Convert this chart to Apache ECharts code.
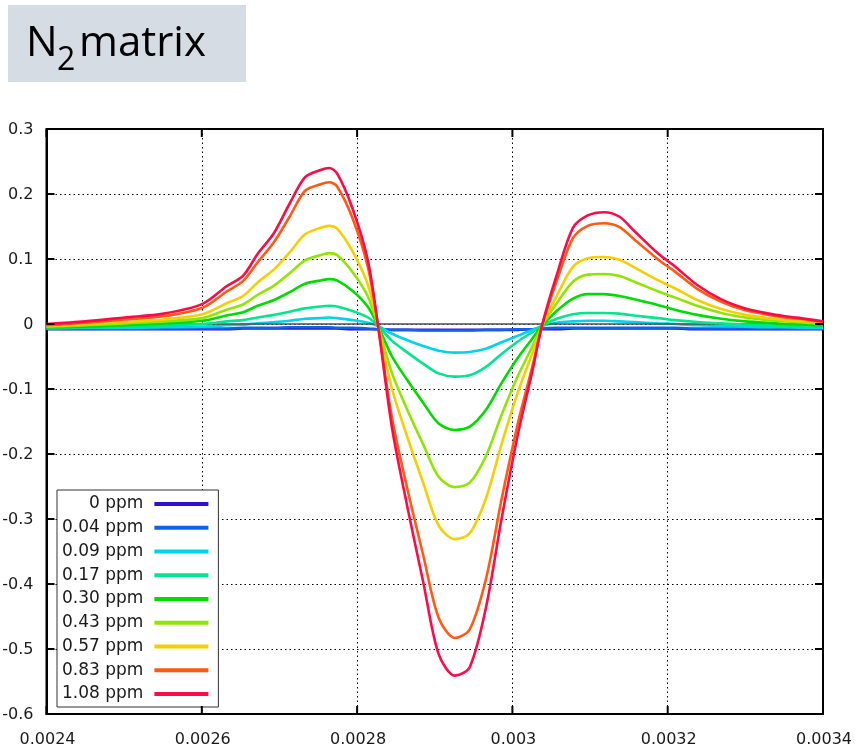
<!DOCTYPE html>
<html>
<head>
<meta charset="utf-8">
<script src="https://cdn.jsdelivr.net/npm/echarts@6.0.0/dist/echarts.min.js"></script>
<style>
html,body{margin:0;padding:0;background:#fff;}
#chart{width:858px;height:751px;}
</style>
</head>
<body>
<div id="chart"></div>
<script>
// ---- data ----
const xValues = [0.002400,0.002450,0.002501,0.002551,0.002601,0.002632,0.002653,0.002672,0.002693,0.002713,0.002733,0.002753,0.002764,0.002774,0.002794,0.002814,0.002827,0.002845,0.002865,0.002885,0.002905,0.002926,0.002945,0.002966,0.002986,0.003007,0.003026,0.003038,0.003057,0.003078,0.003097,0.003118,0.003138,0.003157,0.003188,0.003209,0.003238,0.003269,0.003300,0.003330,0.003351,0.003377,0.003400];

const seriesNames = ['0 ppm','0.04 ppm','0.09 ppm','0.17 ppm','0.30 ppm','0.43 ppm','0.57 ppm','0.83 ppm','1.08 ppm'];

const ppm0 = [-0.008,-0.008,-0.008,-0.008,-0.008,-0.008,-0.007,-0.007,-0.007,-0.007,-0.007,-0.007,-0.007,-0.007,-0.008,-0.008,-0.008,-0.009,-0.009,-0.009,-0.009,-0.009,-0.009,-0.009,-0.009,-0.009,-0.008,-0.008,-0.008,-0.007,-0.007,-0.007,-0.007,-0.007,-0.007,-0.007,-0.008,-0.008,-0.008,-0.008,-0.008,-0.008,-0.008];
const ppm004 = [-0.007,-0.007,-0.007,-0.007,-0.007,-0.007,-0.006,-0.006,-0.006,-0.005,-0.005,-0.005,-0.005,-0.006,-0.006,-0.007,-0.008,-0.009,-0.009,-0.010,-0.010,-0.010,-0.010,-0.009,-0.009,-0.008,-0.008,-0.007,-0.006,-0.006,-0.006,-0.006,-0.006,-0.006,-0.006,-0.006,-0.007,-0.007,-0.007,-0.007,-0.007,-0.007,-0.007];
const ppm009 = [-0.007,-0.006,-0.006,-0.005,-0.004,-0.002,-0.001,0.001,0.003,0.005,0.008,0.009,0.010,0.009,0.006,0.002,-0.003,-0.015,-0.025,-0.034,-0.041,-0.044,-0.043,-0.038,-0.028,-0.018,-0.009,-0.003,0.002,0.004,0.005,0.005,0.004,0.003,0.001,0.000,-0.002,-0.003,-0.004,-0.005,-0.005,-0.006,-0.006];
const ppm017 = [-0.006,-0.005,-0.004,-0.002,0.000,0.004,0.006,0.010,0.014,0.019,0.024,0.027,0.028,0.027,0.020,0.010,-0.003,-0.026,-0.044,-0.061,-0.076,-0.081,-0.079,-0.066,-0.046,-0.027,-0.012,-0.003,0.008,0.015,0.017,0.017,0.016,0.013,0.009,0.006,0.003,0.001,-0.001,-0.002,-0.003,-0.003,-0.004];
const ppm030 = [-0.005,-0.004,-0.002,0.001,0.005,0.013,0.018,0.028,0.037,0.049,0.062,0.067,0.069,0.067,0.051,0.026,-0.003,-0.050,-0.087,-0.121,-0.153,-0.163,-0.158,-0.132,-0.091,-0.052,-0.022,-0.003,0.020,0.039,0.046,0.046,0.043,0.038,0.029,0.022,0.014,0.008,0.004,0.002,0.000,-0.001,-0.002];
const ppm043 = [-0.004,-0.002,0.001,0.004,0.009,0.022,0.030,0.045,0.059,0.078,0.098,0.106,0.109,0.106,0.080,0.042,-0.003,-0.076,-0.133,-0.185,-0.235,-0.251,-0.244,-0.203,-0.140,-0.080,-0.034,-0.003,0.032,0.065,0.076,0.077,0.074,0.065,0.050,0.041,0.028,0.017,0.010,0.006,0.004,0.002,0.000];
const ppm057 = [-0.003,0.000,0.003,0.007,0.015,0.032,0.043,0.064,0.084,0.110,0.138,0.148,0.151,0.147,0.112,0.060,-0.003,-0.100,-0.175,-0.244,-0.310,-0.331,-0.322,-0.268,-0.185,-0.105,-0.044,-0.003,0.043,0.088,0.101,0.103,0.099,0.087,0.067,0.055,0.037,0.023,0.014,0.009,0.006,0.004,0.002];
const ppm083 = [-0.002,0.002,0.007,0.012,0.025,0.050,0.066,0.095,0.126,0.165,0.205,0.215,0.218,0.212,0.163,0.087,-0.003,-0.145,-0.255,-0.355,-0.452,-0.483,-0.470,-0.392,-0.270,-0.153,-0.064,-0.003,0.066,0.132,0.151,0.155,0.149,0.130,0.099,0.081,0.054,0.034,0.021,0.014,0.010,0.007,0.003];
const ppm108 = [0.000,0.004,0.010,0.016,0.031,0.058,0.074,0.108,0.140,0.185,0.226,0.237,0.240,0.232,0.178,0.097,-0.003,-0.160,-0.283,-0.396,-0.508,-0.541,-0.528,-0.436,-0.300,-0.170,-0.071,-0.003,0.075,0.148,0.167,0.172,0.165,0.143,0.108,0.089,0.060,0.038,0.024,0.016,0.012,0.008,0.004];

// tick labels
const xTickLabels = ['0.0024','0.0026','0.0028','0.003','0.0032','0.0034'];
const yTickLabels = ['-0.6','-0.5','-0.4','-0.3','-0.2','-0.1','0','0.1','0.2','0.3'];

// ---- styles ----
const allValues = [ppm0, ppm004, ppm009, ppm017, ppm030, ppm043, ppm057, ppm083, ppm108];
const colors = ['#3010d0','#1062e6','#00d4ea','#00e68e','#00dc00','#90e600','#f4d000','#ff5a12','#ff0a48'];

const X_MIN = parseFloat(xTickLabels[0]);
const X_MAX = parseFloat(xTickLabels[xTickLabels.length - 1]);
const X_INT = Number((parseFloat(xTickLabels[1]) - X_MIN).toFixed(6));
const Y_MIN = parseFloat(yTickLabels[0]);
const Y_MAX = parseFloat(yTickLabels[yTickLabels.length - 1]);
const Y_INT = Number((parseFloat(yTickLabels[1]) - Y_MIN).toFixed(6));

const LABEL_FONT = "16px 'DejaVu Sans', sans-serif";

const series = allValues.map((vals, i) => {
  const s = {
    name: seriesNames[i],
    type: 'line',
    data: xValues.map((x, j) => [x, vals[j]]),
    showSymbol: false,
    smooth: 0.3,
    color: colors[i],
    lineStyle: { width: 2.6, color: colors[i] },
    z: 2 + i
  };
  if (i === 0) {
    s.markLine = {
      silent: true,
      symbol: 'none',
      label: { show: false },
      lineStyle: { color: '#505050', width: 1.5, type: 'solid' },
      data: [{ yAxis: 0 }]
    };
  }
  return s;
});

const titleGraphics = [
  { type: 'rect', left: 8, top: 5, shape: { width: 238, height: 77 }, style: { fill: '#D6DCE4' }, z: 0 },
  { type: 'text', x: 26, y: 44, style: { text: 'N', font: "42px 'Open Sans', sans-serif", fill: '#000', verticalAlign: 'middle', textVerticalAlign: 'middle' }, z: 1 },
  { type: 'text', x: 57, y: 61, style: { text: '2', font: "32px 'Open Sans', sans-serif", fill: '#000', verticalAlign: 'middle', textVerticalAlign: 'middle' }, z: 1 },
  { type: 'text', x: 79, y: 44, style: { text: 'matrix', font: "42px 'Open Sans', sans-serif", fill: '#000', verticalAlign: 'middle', textVerticalAlign: 'middle' }, z: 1 }
];

const chart = echarts.init(document.getElementById('chart'));
try {
  chart.setOption({
    animation: false,
    backgroundColor: '#fff',
    grid: {
      left: 46.5, right: 35, top: 129, bottom: 37,
      show: true, borderColor: '#000', borderWidth: 2
    },
    xAxis: {
      type: 'value', min: X_MIN, max: X_MAX, interval: X_INT,
      axisLine: { show: true, onZero: false, lineStyle: { color: '#000', width: 2 } },
      axisTick: { show: false },
      axisLabel: { show: false },
      splitLine: { show: true, lineStyle: { color: '#000', width: 1, type: [1.5, 3] } }
    },
    yAxis: {
      type: 'value', min: Y_MIN, max: Y_MAX, interval: Y_INT,
      axisLine: { show: true, onZero: false, lineStyle: { color: '#000', width: 2 } },
      axisTick: { show: false },
      axisLabel: { show: false },
      splitLine: { show: true, lineStyle: { color: '#000', width: 1, type: [1.5, 3] } }
    },
    legend: {
      orient: 'vertical',
      left: 57, top: 490,
      align: 'right',
      icon: 'rect',
      itemWidth: 54, itemHeight: 4,
      itemGap: 5.75,
      padding: [5, 10, 4, 5],
      backgroundColor: '#fff',
      borderColor: '#333', borderWidth: 1,
      data: seriesNames,
      textStyle: { fontFamily: 'DejaVu Sans', fontSize: 17, color: '#1a1a1a', lineHeight: 18, padding: [0, 6, 0, 0] }
    },
    graphic: titleGraphics,
    series: series
  });
} catch (e) { /* keep whatever rendered */ }

// Tick marks and tick labels placed through the chart's own coordinate conversion
function px(x, y) { return chart.convertToPixel({ gridIndex: 0 }, [x, y]); }
const extra = [];
try {
  const bottomY = px(X_MIN, Y_MIN)[1];
  const topY = px(X_MIN, Y_MAX)[1];
  const leftX = px(X_MIN, Y_MIN)[0];
  const rightX = px(X_MAX, Y_MIN)[0];
  xTickLabels.forEach(lbl => {
    const x = px(parseFloat(lbl), Y_MIN)[0];
    extra.push({ type: 'line', silent: true, z: 20, shape: { x1: x, y1: bottomY, x2: x, y2: bottomY - 8 }, style: { stroke: '#000', lineWidth: 2 } });
    extra.push({ type: 'line', silent: true, z: 20, shape: { x1: x, y1: topY, x2: x, y2: topY + 8 }, style: { stroke: '#000', lineWidth: 2 } });
    extra.push({ type: 'text', silent: true, z: 20, x: x + 1, y: bottomY + 26,
      style: { text: lbl, font: LABEL_FONT, fill: '#1a1a1a', align: 'center', textAlign: 'center', verticalAlign: 'middle', textVerticalAlign: 'middle' } });
  });
  yTickLabels.forEach(lbl => {
    const y = px(X_MIN, parseFloat(lbl))[1];
    extra.push({ type: 'line', silent: true, z: 20, shape: { x1: leftX, y1: y, x2: leftX + 8, y2: y }, style: { stroke: '#000', lineWidth: 2 } });
    extra.push({ type: 'line', silent: true, z: 20, shape: { x1: rightX, y1: y, x2: rightX - 8, y2: y }, style: { stroke: '#000', lineWidth: 2 } });
    extra.push({ type: 'text', silent: true, z: 20, x: leftX - 13, y: y + 1,
      style: { text: lbl, font: LABEL_FONT, fill: '#1a1a1a', align: 'right', textAlign: 'right', verticalAlign: 'middle', textVerticalAlign: 'middle' } });
  });
  chart.setOption({ graphic: titleGraphics.concat(extra) });
} catch (e) { /* ignore */ }
</script>
</body>
</html>
